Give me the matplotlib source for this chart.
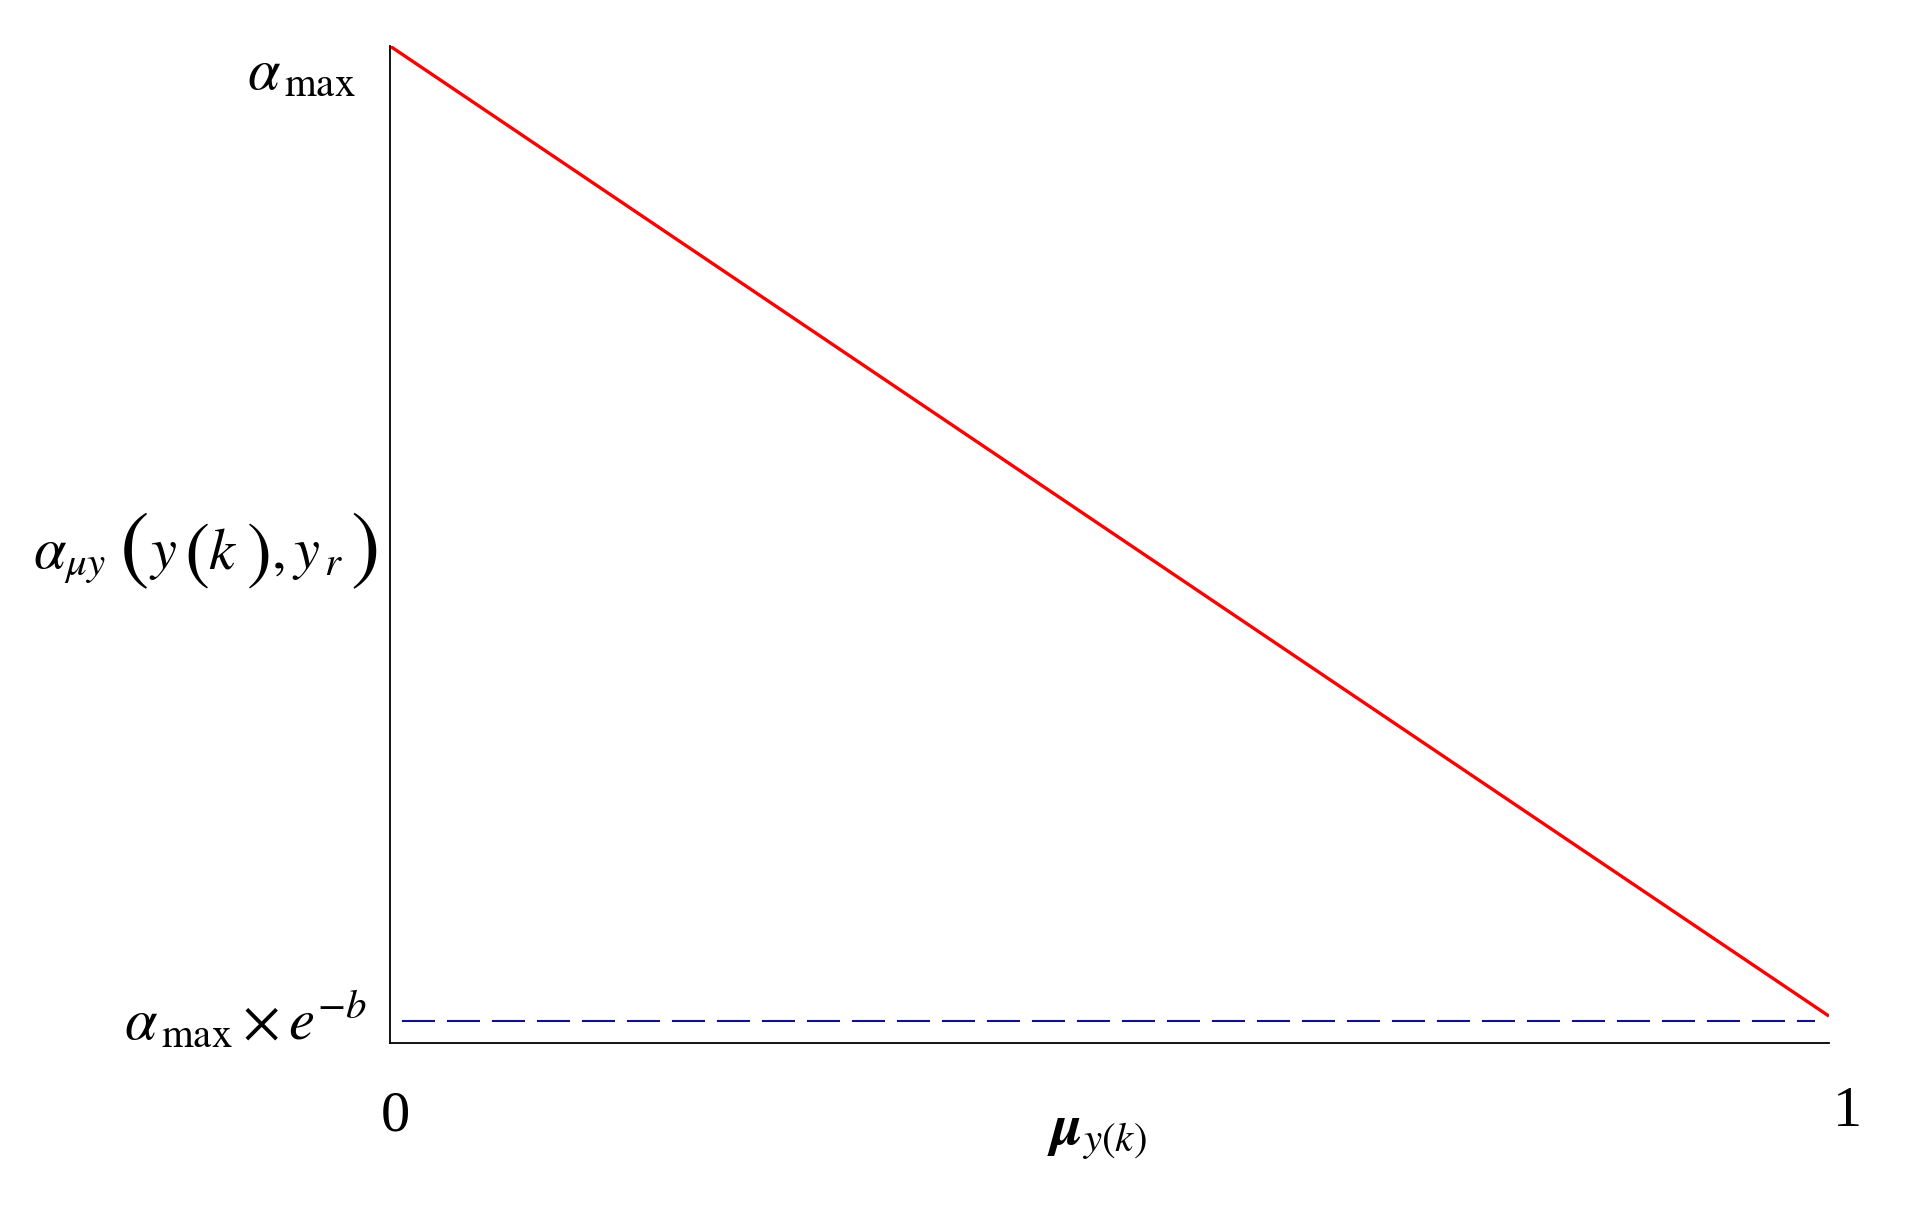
import matplotlib
matplotlib.use("Agg")
import matplotlib.pyplot as plt

plt.rcParams['font.family'] = ['Liberation Serif', 'DejaVu Serif']
plt.rcParams['mathtext.fontset'] = 'stix'
plt.rcParams['lines.scale_dashes'] = False

# 数据
mu = [0.0, 1.0]
alpha_line = [1.0, 0.027]          # alpha_max -> alpha_max*e^-b
alpha_floor = [0.022, 0.022]       # alpha_max*e^-b level
floor_x = [0.0, 0.99]
x_tick_vals = [0, 1]
x_tick_labels = ['0', '1']

fig = plt.figure(figsize=(19.07, 12.05), dpi=100)
ax = fig.add_axes([0.2045, 0.1344, 0.7546, 0.8274])

ax.plot(mu, alpha_line, color='#ff0000', lw=2.4, solid_capstyle='butt')
ax.plot(floor_x, alpha_floor, color='#10108a', lw=1.5,
        linestyle=(23.8, (23.8, 8.6)))

ax.set_xlim(0, 1)
ax.set_ylim(0, 1)
for s in ['top', 'right']:
    ax.spines[s].set_visible(False)
for s in ['left', 'bottom']:
    ax.spines[s].set_linewidth(1.3)
ax.set_xticks([])
ax.set_yticks([])

fs = 42
# x 轴刻度标签
offs = [(3.6, -53), (13, -50)]
for v, lab, o in zip(x_tick_vals, x_tick_labels, offs):
    ax.annotate(lab, xy=(v, 0), xycoords=('data', 'axes fraction'),
                xytext=o, textcoords='offset points',
                ha='center', va='center', fontsize=fs)

# x 轴标题
ax.annotate(r'$\boldsymbol{\mu}_{y(k)}$', xy=(0.491, 0), xycoords='axes fraction',
            xytext=(0, -67), textcoords='offset points',
            ha='center', va='center', fontsize=fs)

# y 轴标签
ax.annotate(r'$\alpha_{\,\mathrm{max}}$', xy=(0, alpha_line[0]),
            xycoords=('axes fraction', 'data'), xytext=(-24.5, -21),
            textcoords='offset points', ha='right', va='center', fontsize=fs)
ax.annotate(r'$\alpha_{\,\mathrm{max}}\times e^{-b}$', xy=(0, alpha_floor[0]),
            xycoords=('axes fraction', 'data'), xytext=(-16.5, 0),
            textcoords='offset points', ha='right', va='center', fontsize=fs)

# 中间的 y 轴标签，分段绘制（大括号）
# (文本, 左边 px, 纵向 px, 字号, 对齐)
pieces = [
    (r'$\alpha_{\mu y}$', 33, 568, fs, 'baseline'),
    (r'$($', 119, 552, 64, 'center'),
    (r'$y$', 149, 568, fs, 'baseline'),
    (r'$($', 184, 556, 54, 'center'),
    (r'$k$', 208, 568, fs, 'baseline'),
    (r'$)$', 246, 556, 54, 'center'),
    (r'$,$', 271, 568, fs, 'baseline'),
    (r'$y_{\,r}$', 292, 568, fs, 'baseline'),
    (r'$)$', 350, 552, 64, 'center'),
]
ax0_x, ax0_y = 390, 1043
for txt, px, py, size, va in pieces:
    ax.annotate(txt, xy=(0, 0), xycoords='axes fraction',
                xytext=((px - ax0_x) * 0.72, (ax0_y - py) * 0.72),
                textcoords='offset points', ha='left', va=va, fontsize=size)

fig.savefig('out.png', dpi=100)
